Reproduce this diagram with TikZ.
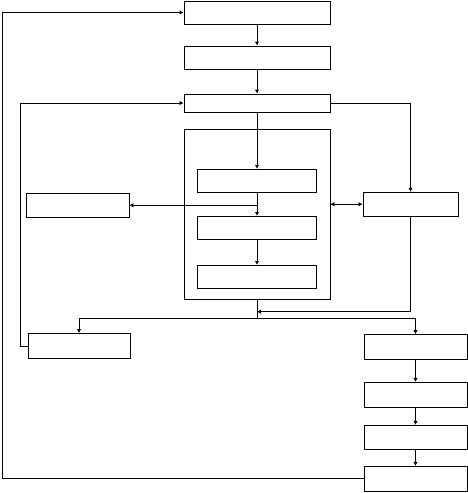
\documentclass[tikz,border=0pt]{standalone}
\usepackage{tikz}
\usetikzlibrary{arrows.meta,positioning,calc}

\begin{document}
\begin{tikzpicture}[x=1pt, y=-1pt, line width=0.8pt,
    box/.style={draw, inner sep=0pt, minimum width=146pt, minimum height=23pt},
    inbox/.style={box, minimum width=119pt},
    sidebox/.style={box, minimum width=103pt, minimum height=25pt},
    arr/.style={-{Latex[length=4pt, width=4.5pt]}},
    dblarr/.style={{Latex[length=4pt, width=4.5pt]}-{Latex[length=4pt, width=4.5pt]}}]
    \useasboundingbox (0,0) rectangle (468,493);

    % Main column
    \node[box] (top) at (257, 12.5) {};
    \node[box] (second) at (257, 57.5) {};
    \node[box, minimum height=18pt] (third) at (257, 103) {};

    % Container with inner stages
    \node[box, minimum height=170pt] (frame) at (257, 214.3) {};
    \node[inbox] (stageA) at (256.5, 180.7) {};
    \node[inbox] (stageB) at (256.5, 227.7) {};
    \node[inbox] (stageC) at (256.5, 276.8) {};

    % Side boxes
    \node[sidebox, minimum height=24pt] (leftaux) at (77.5, 205.3) {};
    \node[sidebox, minimum width=95pt, minimum height=24pt] (rightaux) at (410.5, 204.2) {};

    % Lower branches
    \node[sidebox, minimum width=102pt] (leftout) at (79, 346) {};
    \node[sidebox] (outA) at (415.5, 347) {};
    \node[sidebox] (outB) at (415.5, 394.8) {};
    \node[sidebox, minimum height=24pt] (outC) at (415.5, 437.3) {};
    \node[sidebox] (outD) at (415.5, 478.8) {};

    % Helper points
    \coordinate (merge) at ($(frame.south)+(0,12)$);
    \coordinate (split) at ($(frame.south)+(0,19)$);
    \coordinate (loopC) at (20, 346);
    \coordinate (loopA) at (2, 478.8);

    % Main flow
    \draw[arr] (top) -- (second);
    \draw[arr] (second) -- (third);
    \draw[arr] (third.south) -- (third.south |- stageA.north);
    \draw[arr] (stageA.south -| third.south) -- (third.south |- stageB.north);
    \draw[arr] (stageB.south -| third.south) -- (third.south |- stageC.north);
    \draw[arr] (third.south |- leftaux.east) -- (leftaux.east);
    \draw[arr] (third.east) -| (rightaux.north);
    \draw[dblarr] (frame.east |- rightaux.west) -- (rightaux.west);
    \draw[arr] (rightaux.south) |- (merge);

    % Split to lower branches
    \draw (frame.south) -- (split);
    \draw[arr] (split) -| (leftout.north);
    \draw[arr] (split) -| (outA.north);
    \draw[arr] (outA) -- (outB);
    \draw[arr] (outB) -- (outC);
    \draw[arr] (outC) -- (outD);

    % Feedback loops
    \draw[arr] (leftout.west) -- (loopC) |- (third.west);
    \draw[arr] (outD.west) -- (loopA) |- (top.west);
\end{tikzpicture}
\end{document}
